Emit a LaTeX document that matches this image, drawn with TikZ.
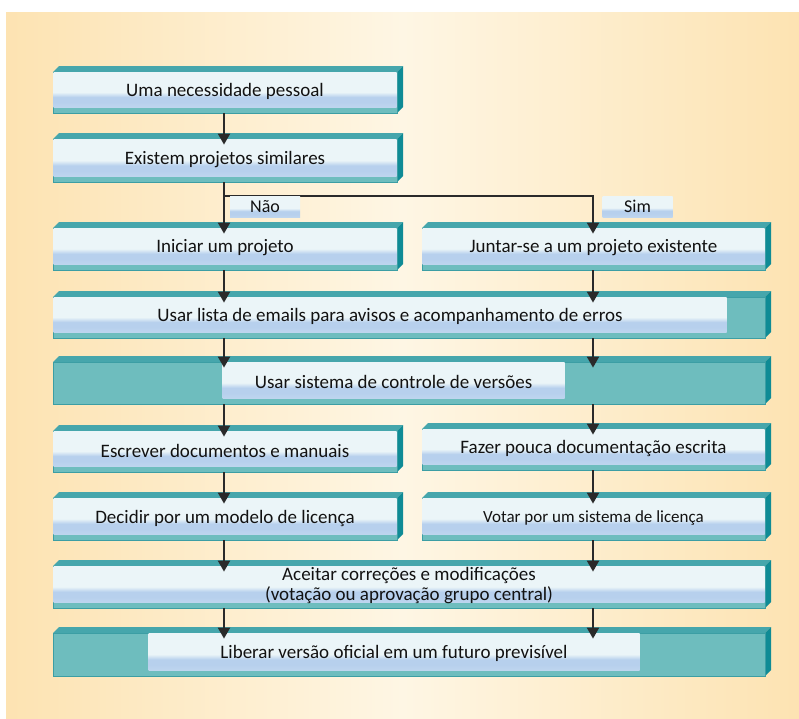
\documentclass[tikz,border=0pt]{standalone}
\usepackage{fontspec}
\setmainfont{Carlito}
\usetikzlibrary{arrows.meta}

\definecolor{bgedge}{HTML}{FDE3B2}
\definecolor{bgmid}{HTML}{FEF6E4}
\definecolor{tealface}{HTML}{6EBDBE}
\definecolor{tealline}{HTML}{3C9EA4}
\definecolor{tealtop}{HTML}{46A6AC}
\definecolor{tealside}{HTML}{0F8B95}
\definecolor{panellight}{HTML}{EBF5F8}
\definecolor{panelblue}{HTML}{B7D0ED}
\definecolor{linegray}{HTML}{2A2A2A}
\definecolor{inkcol}{HTML}{121212}

% light panel: pale on top, blue band towards the bottom
\pgfdeclareverticalshading{panelshade}{100bp}{%
  color(0bp)=(panelblue!85!panellight); color(25bp)=(panelblue!85!panellight);
  color(33bp)=(panelblue); color(40bp)=(panelblue);
  color(47bp)=(panellight); color(100bp)=(panellight)}

\tikzset{
  face/.style={draw=tealline, line width=0.8pt, fill=tealface, inner sep=0pt},
  panel/.style={shade, shading=panelshade, inner sep=0pt},
  boxtext/.style={inner sep=0pt, text=inkcol, align=center,
    font=\fontsize{19}{22}\selectfont},
  tag/.style={panel, text=inkcol, minimum width=70pt, minimum height=21pt,
    font=\fontsize{18}{21}\selectfont},
  arr/.style={draw=linegray, line width=2pt,
    -{Triangle[width=12pt,length=11pt]}, shorten >=-6pt},
  conn/.style={draw=linegray, line width=2pt},
}

% 3-D box: #1 name, #2 left, #3 top, #4 right, #5 bottom,
% #6 panel left, #7 panel right, #8 text style, #9 text
\newcommand\flowbox[9]{%
  \fill[tealtop] (#2,#3) -- (#2+6,#3-6) -- (#4+6,#3-6) -- (#4,#3) -- cycle;
  \fill[tealside] (#4,#3) -- (#4+6,#3-6) -- (#4+6,#5-6) -- (#4,#5) -- cycle;
  \node[face, minimum width=#4-#2, minimum height=#5-#3]
    (#1) at ({(#2+#4)/2},{(#3+#5)/2}) {};
  \node[panel, minimum width=#7-#6-1, minimum height=#5-#3-5.5]
    (#1p) at ({(#6+#7)/2},{(#3+#5-5)/2}) {};
  \node[boxtext, #8] (#1t) at ([yshift=-1.5pt]#1p.center) {#9};
}

\begin{document}
\begin{tikzpicture}[x=1pt, y=-1pt]
\useasboundingbox (0,0) rectangle (799,718);
\fill[white] (0,0) rectangle (799,718);
\shade[left color=bgedge, right color=bgedge, middle color=bgmid]
  (6,12) rectangle (799,718);

\coordinate (colL) at (224,0);
\coordinate (colR) at (593,0);

\flowbox{b1}{53}{72}{397}{113}{53}{397}{}{Uma necessidade pessoal}
\flowbox{b2}{53}{139}{397}{182}{53}{397}{}{Existem projetos similares}
\flowbox{b3}{53}{228}{397}{270}{53}{397}{}{Iniciar um projeto}
\flowbox{b4}{422}{228}{765}{270}{422}{765}{}{Juntar-se a um projeto existente}
\flowbox{b5}{53}{297}{765}{338}{53}{727}{}{Usar lista de emails para avisos e acompanhamento de erros}
\flowbox{b6}{53}{362}{765}{404}{222}{565}{}{Usar sistema de controle de versões}
\flowbox{b7}{53}{431}{397}{472}{53}{397}{}{Escrever documentos e manuais}
\flowbox{b8}{422}{429}{765}{470}{422}{765}{}{Fazer pouca documentação escrita}
\flowbox{b9}{53}{498}{397}{540}{53}{397}{}{Decidir por um modelo de licença}
\flowbox{b10}{422}{498}{765}{540}{422}{765}{font=\fontsize{17}{20}\selectfont}{Votar por um sistema de licença}
\flowbox{b11}{53}{566}{765}{608}{53}{765}{font=\fontsize{19}{20}\selectfont}{Aceitar correções e modificações\\(votação ou aprovação grupo central)}
\flowbox{b12}{53}{633}{765}{676}{148}{640}{}{Liberar versão oficial em um futuro previsível}

% branch after the question box
\coordinate (split) at (224,196);
\draw[conn] (b2.south -| colL) -- (split);
\draw[arr] (split) -- (b3.north -| colL);
\draw[arr] (split) -| (b4.north -| colR);
\node[tag] (nao) at (265,207) {Não};
\node[tag] (sim) at (637.5,206.5) {Sim};

% straight connectors
\draw[arr] (b1.south -| colL) -- (b2.north -| colL);
\draw[arr] (b3.south -| colL) -- (b5.north -| colL);
\draw[arr] (b4.south -| colR) -- (b5.north -| colR);
\draw[arr] (b5.south -| colL) -- (b6.north -| colL);
\draw[arr] (b5.south -| colR) -- (b6.north -| colR);
\draw[arr] (b6.south -| colL) -- (b7.north -| colL);
\draw[arr] (b6.south -| colR) -- (b8.north -| colR);
\draw[arr] (b7.south -| colL) -- (b9.north -| colL);
\draw[arr] (b8.south -| colR) -- (b10.north -| colR);
\draw[arr] (b9.south -| colL) -- (b11.north -| colL);
\draw[arr] (b10.south -| colR) -- (b11.north -| colR);
\draw[arr] (b11.south -| colL) -- (b12.north -| colL);
\draw[arr] (b11.south -| colR) -- (b12.north -| colR);
\end{tikzpicture}
\end{document}
